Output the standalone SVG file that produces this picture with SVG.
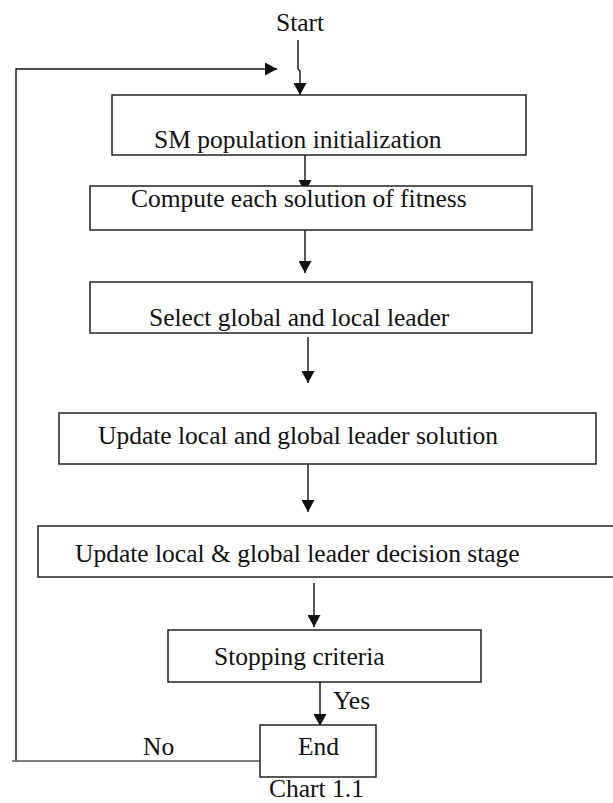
<svg xmlns="http://www.w3.org/2000/svg" width="613" height="803" viewBox="0 0 613 803">
<style>
.box{fill:#fff;stroke:#222;stroke-width:1.5}
.t{font-family:"Liberation Serif","Times New Roman",serif;font-size:25.5px;fill:#111}
.c{fill:none;stroke:#111;stroke-width:1.4}
</style>
<defs>
<marker id="ah" markerUnits="userSpaceOnUse" markerWidth="13" markerHeight="13" refX="12" refY="6.5" orient="auto">
<path d="M0,0 L12,6.5 L0,13 z" fill="#111"/>
</marker>
</defs>
<rect width="613" height="803" fill="#fff"/>
<g id="connectors">
<path class="c" d="M298,40 V69 L300,71 V95" marker-end="url(#ah)"/>
<path class="c" d="M16,761 V69 H277" marker-end="url(#ah)"/>
<path d="M12,761 H260" fill="none" stroke="#555" stroke-width="1.6"/>
<path class="c" d="M305,155 V192" marker-end="url(#ah)"/>
<path class="c" d="M305,230 V273" marker-end="url(#ah)"/>
<path class="c" d="M308,337 V383" marker-end="url(#ah)"/>
<path class="c" d="M308,464 V512" marker-end="url(#ah)"/>
<path class="c" d="M314,583 V627" marker-end="url(#ah)"/>
<path class="c" d="M320,682 V726" marker-end="url(#ah)"/>
</g>
<g id="start"><text class="t" x="276" y="31">Start</text></g>
<g id="init"><rect class="box" x="112" y="95" width="414" height="60"/><text class="t" x="154" y="148">SM population initialization</text></g>
<g id="fitness"><rect class="box" x="90" y="186" width="442" height="44"/><text class="t" x="131" y="207">Compute each solution of fitness</text></g>
<g id="select"><rect class="box" x="90" y="282" width="442" height="51"/><text class="t" x="149" y="326">Select global and local leader</text></g>
<g id="update"><rect class="box" x="59" y="413" width="537" height="51"/><text class="t" x="98" y="444">Update local and global leader solution</text></g>
<g id="decision"><rect class="box" x="38" y="526" width="600" height="51"/><text class="t" x="75" y="562">Update local &amp; global leader decision stage</text></g>
<g id="stopping"><rect class="box" x="168" y="630" width="313" height="52"/><text class="t" x="214" y="665">Stopping criteria</text></g>
<g id="end"><rect class="box" x="260" y="725" width="116" height="52"/><text class="t" x="298" y="755">End</text></g>
<g id="labels">
<text class="t" x="333" y="709">Yes</text>
<text class="t" x="143" y="755">No</text>
<text class="t" x="269" y="797">Chart 1.1</text>
</g>
</svg>
